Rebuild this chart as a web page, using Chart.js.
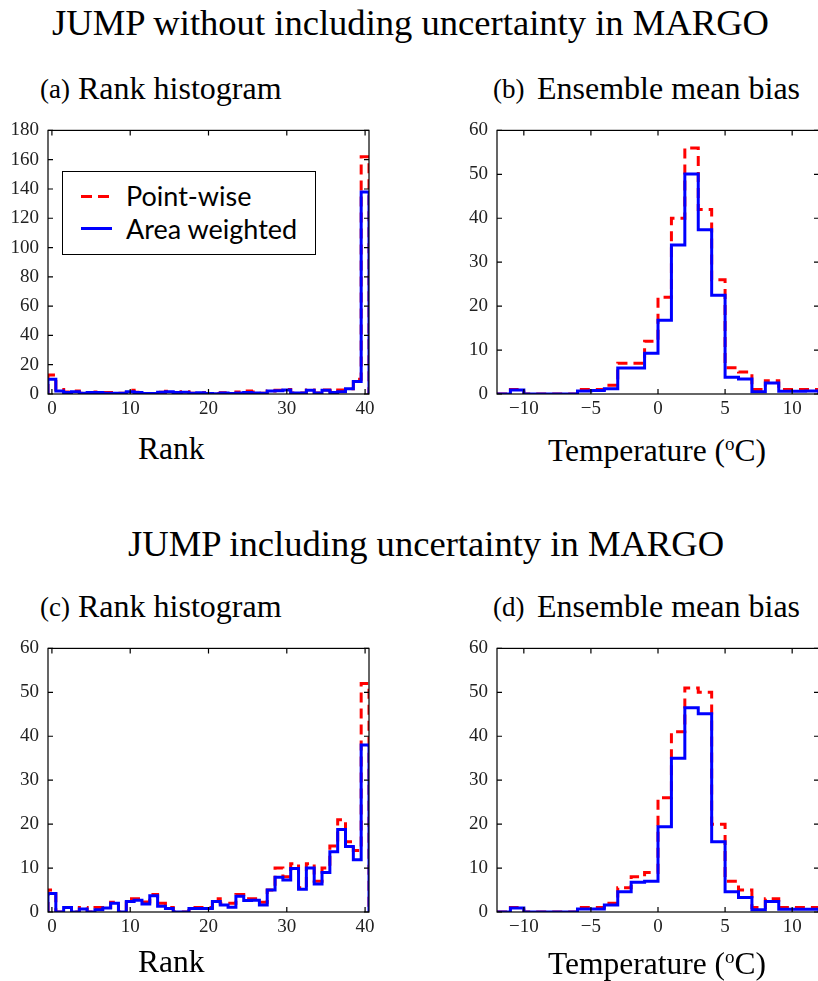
<!DOCTYPE html>
<html>
<head>
<meta charset="utf-8">
<script src="https://cdn.jsdelivr.net/npm/chart.js@4.4.0/dist/chart.umd.min.js"></script>
<style>
  html, body { margin: 0; padding: 0; background: #fff; }
  #page { position: relative; width: 818px; height: 981px; overflow: hidden; }
  .txt { position: absolute; white-space: nowrap; line-height: 1; color: #000; font-family: 'Liberation Serif', 'Times New Roman', serif; }
  .big { font-size: 36.6px; }
  .head { font-size: 32px; }
  .tag { font-size: 27px; }
  .axl { font-size: 31.5px; }
  canvas { position: absolute; }
  #legend { position: absolute; left: 62px; top: 171px; width: 252px; height: 82px; border: 1px solid #000; background: #fff; }
  #legend .sample { position: absolute; left: 18px; width: 31px; height: 3px; }
  #legend .lab { position: absolute; left: 63px; font-family: Lato, 'Open Sans', sans-serif; font-size: 27px; line-height: 1; white-space: nowrap; }
</style>
</head>
<body>
<div id="page">
  <div class="txt big" style="left:52px; top:5px;">JUMP without including uncertainty in MARGO</div>
  <div class="txt big" style="left:128px; top:526px;">JUMP including uncertainty in MARGO</div>

  <div class="txt tag" style="left:40px; top:76px;">(a)</div>
  <div class="txt head" style="left:78px; top:72px;">Rank histogram</div>
  <div class="txt tag" style="left:493px; top:76px;">(b)</div>
  <div class="txt head" style="left:537px; top:72px;">Ensemble mean bias</div>
  <div class="txt tag" style="left:40px; top:594px;">(c)</div>
  <div class="txt head" style="left:78px; top:590px;">Rank histogram</div>
  <div class="txt tag" style="left:493px; top:594px;">(d)</div>
  <div class="txt head" style="left:537px; top:590px;">Ensemble mean bias</div>

  <canvas id="panelA" width="400" height="320" style="left:0px; top:110px;"></canvas>
  <canvas id="panelB" width="390" height="320" style="left:440px; top:110px;"></canvas>
  <canvas id="panelC" width="400" height="320" style="left:0px; top:628px;"></canvas>
  <canvas id="panelD" width="390" height="320" style="left:440px; top:628px;"></canvas>

  <div class="txt axl" style="left:138px; top:433px;">Rank</div>
  <div class="txt axl" style="left:548px; top:434px;">Temperature (<sup style="font-size:19px; vertical-align:11px;">o</sup>C)</div>
  <div class="txt axl" style="left:138px; top:946px;">Rank</div>
  <div class="txt axl" style="left:548px; top:947px;">Temperature (<sup style="font-size:19px; vertical-align:11px;">o</sup>C)</div>

  <div id="legend">
    <div class="sample" style="top:23px; background: repeating-linear-gradient(90deg, #ff0000 0 11px, transparent 11px 17px);"></div>
    <div class="lab" style="top:10px;">Point-wise</div>
    <div class="sample" style="top:55px; background:#0000ff;"></div>
    <div class="lab" style="top:43px;">Area weighted</div>
  </div>
</div>

<script>
// rank of the observation among 40 ensemble members
const rankBins = [0, 1, 2, 3, 4, 5, 6, 7, 8, 9, 10, 11, 12, 13, 14, 15, 16, 17, 18, 19, 20,
                  21, 22, 23, 24, 25, 26, 27, 28, 29, 30, 31, 32, 33, 34, 35, 36, 37, 38, 39, 40];
const rankTicks = [0, 10, 20, 30, 40];

// ensemble mean bias, 1 degree bins starting at these lower edges
const tempBins = [-12, -11, -10, -9, -8, -7, -6, -5, -4, -3, -2, -1, 0, 1, 2, 3, 4, 5, 6, 7, 8, 9, 10, 11];
const tempTicks = [-10, -5, 0, 5, 10];

// (a) without MARGO uncertainty
const rankPointA = [13, 3, 1.3, 2, 0.5, 1, 1.3, 1, 1, 0.5, 2.5, 1.2, 0.3, 0.3, 1.2, 1.8, 1, 1.5, 0.5, 0.8, 0.3,
                    0.3, 0.8, 0.4, 1.4, 2, 1.3, 0.5, 2, 2.5, 3, 0.6, 0.6, 2.8, 0.7, 2.8, 2, 2.7, 3.6, 10, 162];
const rankAreaA = [10, 2, 1.1, 1.5, 0.5, 1, 1, 0.5, 0.5, 0.5, 1.5, 1, 0.3, 0.3, 1.2, 1.5, 1, 1.2, 0.5, 0.8, 0.3,
                   0.2, 0.6, 0.4, 0.6, 1, 0.6, 0.5, 2, 2.3, 2.7, 0.6, 0.6, 2.5, 0.7, 2.5, 1, 1.5, 3.6, 8.5, 138];

// (b) without MARGO uncertainty
const biasPointB = [0, 1, 0, 0, 0, 0, 1, 1, 2, 7, 7, 12, 22, 40, 56, 42, 26, 6, 5, 1, 3, 1, 1, 1];
const biasAreaB = [0, 0.9, 0, 0, 0, 0, 0.7, 0.8, 1.2, 5.9, 5.9, 9.3, 16.8, 33.9, 50.1, 37.4, 22.5, 3.8, 3.4, 0.5, 2.5, 0.65, 0.65, 0.7];

// (c) including MARGO uncertainty
const rankPointC = [5, 0, 1, 0, 1, 0, 1, 1, 2.2, 0, 3, 3, 2.3, 4, 2, 1, 0, 0, 1, 1, 1,
                    3, 2, 2, 4, 3, 3, 2.2, 5, 10, 8, 11, 5.5, 11, 7, 10, 15, 21, 16, 14, 52];
const rankAreaC = [4.2, 0, 1, 0, 0.7, 0, 0.5, 0.9, 2, 0, 2.4, 2.7, 1.8, 3.7, 1.3, 0.8, 0, 0, 0.8, 0.8, 0.8,
                   2.4, 1.6, 1.1, 3.6, 2.6, 2.7, 1.6, 5, 7.9, 7.3, 9.9, 5.2, 10, 6.4, 9, 13.7, 18.8, 14.9, 11.9, 38];

// (d) including MARGO uncertainty
const biasPointD = [0, 1, 0, 0, 0, 0, 1, 1, 2, 5.5, 8, 9, 26, 41, 51, 50, 20, 7, 5, 1, 3, 1, 1, 1];
const biasAreaD = [0, 0.9, 0, 0, 0, 0, 0.7, 0.7, 1.6, 4.6, 6.8, 7, 19.4, 35, 46.5, 45.1, 16, 4.6, 3.3, 0.5, 2.4, 0.6, 0.6, 0.6];

Chart.defaults.font.family = "'Liberation Serif', 'Times New Roman', serif";

// outline of a histogram: rise from zero at the first edge, step across, drop at the last edge
function stepOutline(lows, width, counts) {
    const pts = [{ x: lows[0], y: 0 }];
    lows.forEach((lo, i) => pts.push({ x: lo, y: counts[i] }));
    const end = lows[lows.length - 1] + width;
    pts.push({ x: end, y: counts[counts.length - 1] });
    pts.push({ x: end, y: 0 });
    return pts;
}

function tickText(v) {
    return v < 0 ? '\u2212' + Math.abs(v) : String(v);
}

// box round the plot with inward ticks on all four sides
const framePlugin = {
    id: 'frame',
    afterDatasetsDraw(chart) {
        const { ctx, chartArea: a, scales } = chart;
        const len = 5;
        ctx.save();
        ctx.strokeStyle = '#000';
        ctx.lineWidth = 1.2;
        ctx.strokeRect(a.left, a.top, a.right - a.left, a.bottom - a.top);
        ctx.beginPath();
        scales.x.ticks.forEach(t => {
            const px = scales.x.getPixelForValue(t.value);
            ctx.moveTo(px, a.bottom); ctx.lineTo(px, a.bottom - len);
            ctx.moveTo(px, a.top); ctx.lineTo(px, a.top + len);
        });
        scales.y.ticks.forEach(t => {
            const py = scales.y.getPixelForValue(t.value);
            ctx.moveTo(a.left, py); ctx.lineTo(a.left + len, py);
            ctx.moveTo(a.right, py); ctx.lineTo(a.right - len, py);
        });
        ctx.stroke();
        ctx.restore();
    }
};

function makePanel(id, cfg) {
    const tickFont = { size: 19 };
    return new Chart(document.getElementById(id), {
        type: 'line',
        data: {
            datasets: [
                {
                    label: 'Area weighted',
                    data: stepOutline(cfg.lows, cfg.width, cfg.area),
                    borderColor: '#0000ff',
                    borderWidth: 3,
                    stepped: true,
                    pointRadius: 0,
                    fill: false,
                    borderJoinStyle: 'miter',
                    order: 0
                },
                {
                    label: 'Point-wise',
                    data: stepOutline(cfg.lows, cfg.width, cfg.point),
                    borderColor: '#ff0000',
                    borderWidth: 3,
                    borderDash: [10, 6],
                    stepped: true,
                    pointRadius: 0,
                    fill: false,
                    borderJoinStyle: 'miter',
                    order: 1
                }
            ]
        },
        options: {
            responsive: false,
            animation: false,
            events: [],
            layout: { padding: { top: cfg.padTop, right: cfg.padRight, left: 0, bottom: 0 } },
            plugins: {
                legend: { display: false },
                tooltip: { enabled: false }
            },
            scales: {
                x: {
                    type: 'linear',
                    min: cfg.xMin,
                    max: cfg.xMax,
                    grid: { display: false, drawTicks: false },
                    border: { display: false },
                    afterBuildTicks: s => { s.ticks = cfg.xTicks.map(v => ({ value: v })); },
                    afterFit: s => { s.height = cfg.xAxisH; },
                    ticks: {
                        color: '#222',
                        font: tickFont,
                        padding: 4,
                        maxRotation: 0,
                        autoSkip: false,
                        callback: v => tickText(v)
                    }
                },
                y: {
                    min: 0,
                    max: cfg.yMax,
                    grid: { display: false, drawTicks: false },
                    border: { display: false },
                    afterBuildTicks: s => { s.ticks = cfg.yTicks.map(v => ({ value: v })); },
                    afterFit: s => { s.width = cfg.yAxisW; },
                    ticks: {
                        color: '#222',
                        font: tickFont,
                        padding: 9,
                        autoSkip: false,
                        callback: v => tickText(v)
                    }
                }
            }
        },
        plugins: [framePlugin]
    });
}

const rankLows = rankBins.map(r => r - 0.5);

makePanel('panelA', {
    lows: rankLows, width: 1, point: rankPointA, area: rankAreaA,
    xMin: -0.5, xMax: 40.5, xTicks: rankTicks,
    yMax: 180, yTicks: [0, 20, 40, 60, 80, 100, 120, 140, 160, 180],
    yAxisW: 48, xAxisH: 36, padTop: 12, padRight: 31
});
makePanel('panelB', {
    lows: tempBins, width: 1, point: biasPointB, area: biasAreaB,
    xMin: -12, xMax: 12, xTicks: tempTicks,
    yMax: 60, yTicks: [0, 10, 20, 30, 40, 50, 60],
    yAxisW: 57, xAxisH: 36, padTop: 12, padRight: 11
});
makePanel('panelC', {
    lows: rankLows, width: 1, point: rankPointC, area: rankAreaC,
    xMin: -0.5, xMax: 40.5, xTicks: rankTicks,
    yMax: 60, yTicks: [0, 10, 20, 30, 40, 50, 60],
    yAxisW: 48, xAxisH: 36, padTop: 12, padRight: 31
});
makePanel('panelD', {
    lows: tempBins, width: 1, point: biasPointD, area: biasAreaD,
    xMin: -12, xMax: 12, xTicks: tempTicks,
    yMax: 60, yTicks: [0, 10, 20, 30, 40, 50, 60],
    yAxisW: 57, xAxisH: 36, padTop: 12, padRight: 11
});
</script>
</body>
</html>
